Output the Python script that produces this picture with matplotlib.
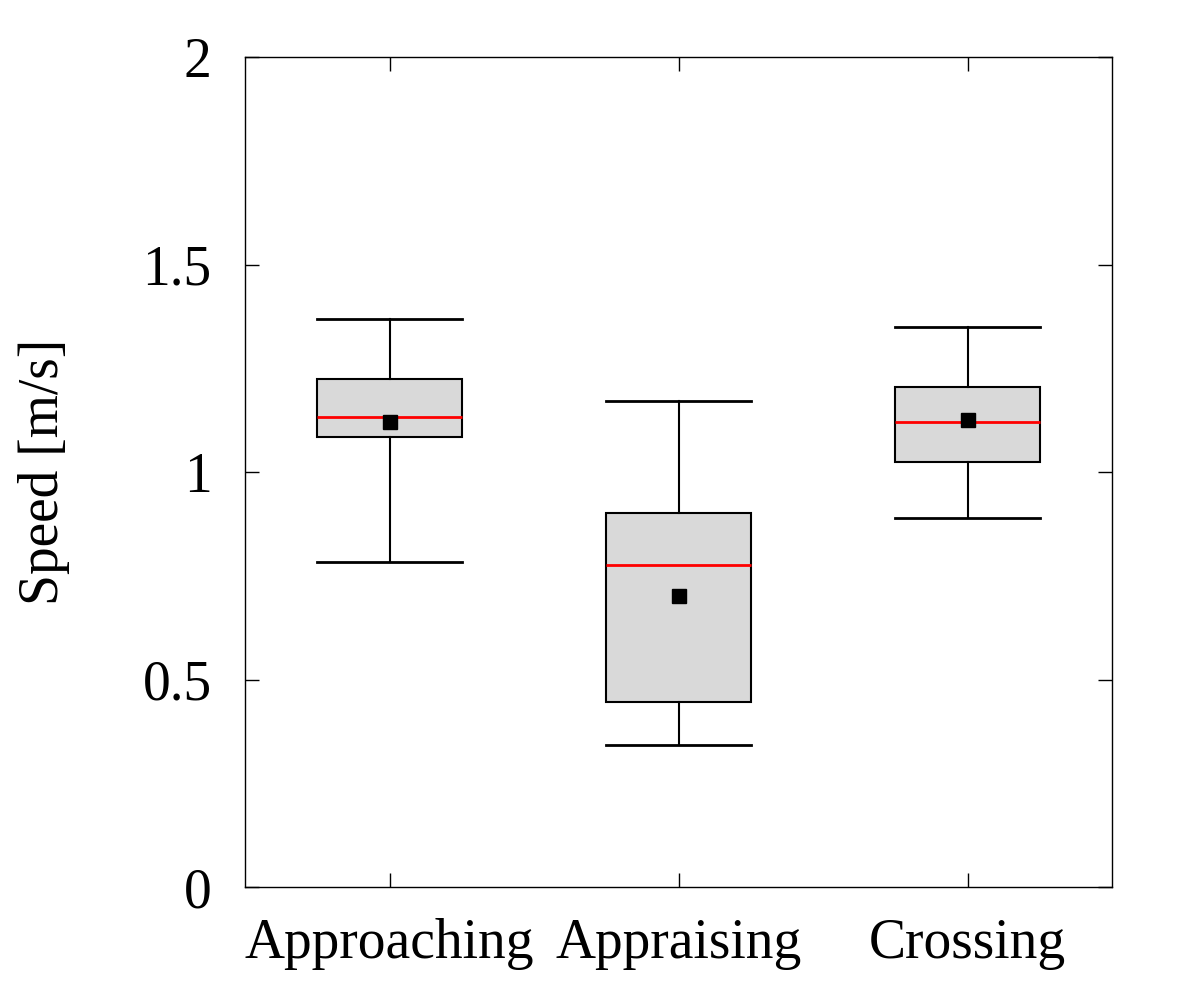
import matplotlib.pyplot as plt

# phases and box statistics
phases = ["Approaching", "Appraising", "Crossing"]
whislo = [0.783, 0.342, 0.889]
q1 = [1.084, 0.446, 1.024]
med = [1.133, 0.776, 1.120]
q3 = [1.224, 0.901, 1.205]
whishi = [1.369, 1.171, 1.349]
means = [1.120, 0.701, 1.125]

plt.rcParams["font.family"] = ["Liberation Serif", "DejaVu Serif"]

stats = []
for i in range(len(phases)):
    stats.append({
        "label": phases[i],
        "whislo": whislo[i], "q1": q1[i], "med": med[i],
        "q3": q3[i], "whishi": whishi[i], "mean": means[i], "fliers": [],
    })

fig = plt.figure(figsize=(12, 10), dpi=100)
ax = fig.add_axes([245 / 1200, 1 - 887 / 1000, 867 / 1200, 830 / 1000])

pos = list(range(1, len(phases) + 1))
ax.bxp(stats, positions=pos, widths=0.5, showmeans=True, patch_artist=True,
       boxprops=dict(facecolor="#d9d9d9", edgecolor="black", linewidth=1.5),
       medianprops=dict(color="red", linewidth=2),
       whiskerprops=dict(color="black", linewidth=1.5),
       capprops=dict(color="black", linewidth=2),
       capwidths=0.5,
       meanprops=dict(marker="s", markerfacecolor="black", markeredgecolor="black", markersize=10))

ax.set_xlim(0.5, 3.5)
ax.set_ylim(0, 2)
ax.set_yticks([0, 0.5, 1, 1.5, 2])
ax.set_yticklabels(["0", "0.5", "1", "1.5", "2"])
ax.set_xticks(pos)
ax.set_xticklabels(phases)
ax.tick_params(direction="in", length=10, width=1, top=True, right=True,
               labelsize=40, pad=22)
ax.tick_params(axis="y", pad=24)
for s in ax.spines.values():
    s.set_linewidth(1)
ax.set_ylabel("Speed [m/s]", fontsize=40, labelpad=52)

plt.savefig("out.png", dpi=100)
plt.close()
